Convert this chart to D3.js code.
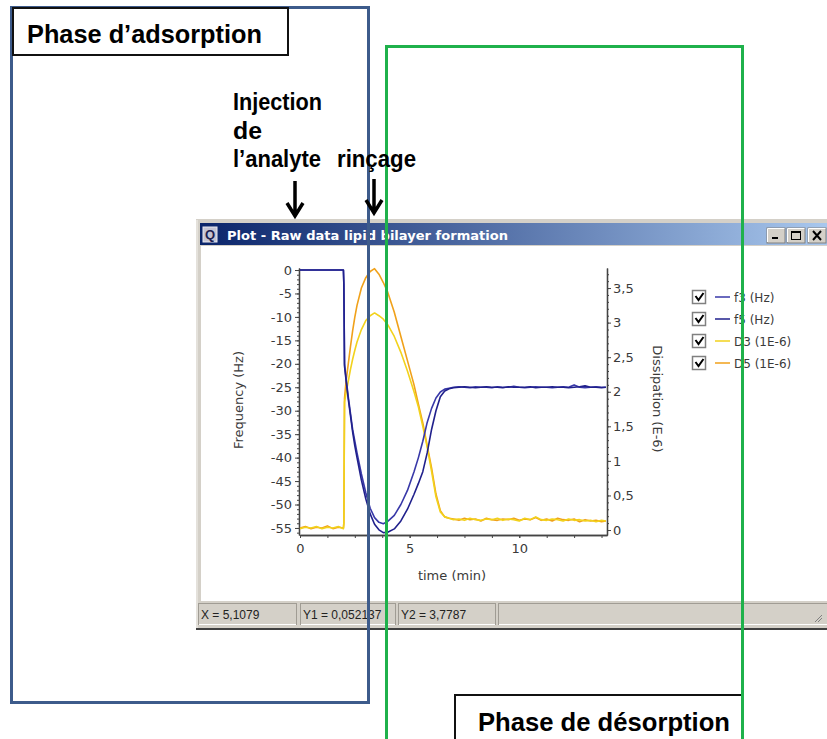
<!DOCTYPE html>
<html>
<head>
<meta charset="utf-8">
<script src="https://cdn.jsdelivr.net/npm/d3@7"></script>
<style>
body { margin: 0; background: #fff; }
</style>
</head>
<body>
<div class="container"></div>
<script>
// time in minutes
var time = [0, 0.25, 0.5, 0.75, 1.0, 1.25, 1.5, 1.75, 1.98, 2.0, 2.03, 2.1, 2.2, 2.3, 2.4, 2.5, 2.6,
	2.8, 3.0, 3.2, 3.4, 3.6, 3.8, 4.0, 4.3, 4.6, 4.9, 5.2, 5.4, 5.6, 5.8, 6.0, 6.2, 6.4, 6.6, 6.8,
	7.0, 7.25, 7.5, 7.75, 8.0, 8.25, 8.5, 8.75, 9.0, 9.25, 9.5, 9.75, 10.0, 10.25, 10.5, 10.75,
	11.0, 11.25, 11.5, 11.75, 12.0, 12.25, 12.5, 12.75, 13.0, 13.25, 13.5, 13.75, 13.95];

// frequency shifts (Hz)
var f3 = [0, 0, 0, 0, 0, 0, 0, 0, 0, -3, -20, -23, -27, -30.5, -34, -36.5, -39,
	-43.5, -47.5, -50.8, -52.8, -53.8, -54.1, -53.6, -52.3, -50, -47, -43, -40, -36.5, -32.5, -29.5, -27.3, -26, -25.4, -25.2,
	-25.0, -24.9, -25.0, -25.1, -24.9, -25.0, -25.0, -25.1, -24.9, -25.0, -25.0, -24.8, -25.0, -25.1, -25.0, -24.9,
	-25.0, -25.0, -25.1, -25.0, -24.9, -25.0, -24.5, -25.0, -25.1, -25.0, -24.9, -25.0, -25.0];
var f5 = [0, 0, 0, 0, 0, 0, 0, 0, 0, -3, -20.5, -23.5, -27.5, -31, -34.5, -37.5, -40,
	-44.8, -48.8, -52, -54.2, -55.4, -56, -55.9, -55.2, -53.5, -51, -47.8, -45.5, -43, -39, -34, -30, -27, -25.8, -25.3,
	-25.1, -25.0, -24.9, -25.0, -25.1, -25.0, -24.9, -25.0, -25.0, -25.1, -24.9, -25.0, -25.0, -25.0, -24.9, -25.1,
	-25.0, -25.0, -24.9, -25.0, -25.0, -25.1, -25.0, -24.9, -24.7, -25.0, -25.0, -25.1, -25.0];

// dissipation (1E-6)
var dis3 = [0.02, 0.04, 0.03, 0.05, 0.02, 0.04, 0.03, 0.05, 0.02, 0.1, 1.85, 1.98, 2.15, 2.32, 2.47, 2.6, 2.72,
	2.9, 3.03, 3.1, 3.14, 3.1, 3.05, 2.97, 2.8, 2.57, 2.3, 2.0, 1.78, 1.5, 1.2, 0.85, 0.48, 0.26, 0.19, 0.17,
	0.15, 0.16, 0.14, 0.17, 0.15, 0.14, 0.16, 0.15, 0.17, 0.14, 0.16, 0.15, 0.13, 0.17, 0.15, 0.19,
	0.15, 0.14, 0.16, 0.15, 0.13, 0.16, 0.14, 0.15, 0.13, 0.14, 0.12, 0.14, 0.13];
var dis5 = [0.03, 0.05, 0.02, 0.04, 0.03, 0.06, 0.02, 0.04, 0.03, 0.1, 1.9, 2.15, 2.4, 2.65, 2.88, 3.08, 3.25,
	3.5, 3.65, 3.74, 3.78, 3.7, 3.58, 3.44, 3.15, 2.8, 2.45, 2.1, 1.82, 1.55, 1.22, 0.9, 0.52, 0.28, 0.19, 0.17,
	0.16, 0.14, 0.17, 0.15, 0.16, 0.13, 0.17, 0.15, 0.14, 0.16, 0.15, 0.17, 0.14, 0.16, 0.15, 0.18,
	0.14, 0.16, 0.13, 0.17, 0.15, 0.14, 0.16, 0.12, 0.15, 0.13, 0.14, 0.12, 0.13];

var seriesNames = ["f3 (Hz)", "f5 (Hz)", "D3 (1E-6)", "D5 (1E-6)"];
var freqTicks = [0, -5, -10, -15, -20, -25, -30, -35, -40, -45, -50, -55];
var dissTicks = [0, 0.5, 1, 1.5, 2, 2.5, 3, 3.5];
var timeTicks = [0, 5, 10];
var statusTexts = ["X = 5,1079", "Y1 = 0,052137", "Y2 = 3,7787"];

var W = 827, H = 739;
var uiFont = "DejaVu Sans, Verdana, sans-serif";
var boldFont = "Liberation Sans, Arial, sans-serif";

var svg = d3.select('.container').append('svg')
	.attr('width', W)
	.attr('height', H);

var grad = svg.append('defs').append('linearGradient')
	.attr('id', 'titleGrad')
	.attr('x1', '0%').attr('x2', '100%');
grad.append('stop').attr('offset', '0%').attr('stop-color', '#0a246a');
grad.append('stop').attr('offset', '100%').attr('stop-color', '#a9c8ee');

// ---- the software window ----
var win = svg.append('g');
win.append('rect')
	.attr('x', 196).attr('y', 219)
	.attr('width', 640).attr('height', 410)
	.attr('fill', '#d4d0c8');
win.append('line')
	.attr('x1', 197).attr('x2', 197).attr('y1', 220).attr('y2', 628)
	.attr('stroke', '#f4f2ee').attr('stroke-width', 1);
win.append('rect')
	.attr('x', 200).attr('y', 223)
	.attr('width', 630).attr('height', 22)
	.attr('fill', 'url(#titleGrad)');
win.append('rect')
	.attr('x', 201).attr('y', 246)
	.attr('width', 630).attr('height', 355)
	.attr('fill', '#ffffff');
win.append('line')
	.attr('x1', 196).attr('x2', 827).attr('y1', 629).attr('y2', 629)
	.attr('stroke', '#404040').attr('stroke-width', 2);

// title icon
win.append('rect')
	.attr('x', 203).attr('y', 227).attr('width', 14).attr('height', 15)
	.attr('fill', '#c4c4d4').attr('stroke', '#e8e8f0');
win.append('text')
	.attr('x', 210).attr('y', 239)
	.attr('text-anchor', 'middle')
	.attr('font-family', boldFont).attr('font-weight', 'bold').attr('font-size', 13)
	.attr('fill', '#1c2050')
	.text('Q');

win.append('text')
	.attr('x', 227).attr('y', 240)
	.attr('font-family', uiFont).attr('font-weight', 'bold').attr('font-size', 13)
	.attr('textLength', 281).attr('lengthAdjust', 'spacingAndGlyphs')
	.attr('fill', '#ffffff')
	.text('Plot - Raw data lipid bilayer formation');

// window buttons
var btnX = [767, 787, 808];
btnX.forEach(function (bx, i) {
	win.append('rect')
		.attr('x', bx).attr('y', 228).attr('width', 18).attr('height', 15)
		.attr('fill', '#d4d0c8').attr('stroke', '#808080');
	win.append('path')
		.attr('d', 'M' + (bx + 0.5) + ',242 V228.5 H' + (bx + 17.5))
		.attr('fill', 'none').attr('stroke', '#ffffff');
	if (i === 0) {
		win.append('rect').attr('x', bx + 5).attr('y', 237).attr('width', 6).attr('height', 2).attr('fill', '#000');
	} else if (i === 1) {
		win.append('rect').attr('x', bx + 4.5).attr('y', 231.5).attr('width', 9).attr('height', 8)
			.attr('fill', 'none').attr('stroke', '#000');
		win.append('line').attr('x1', bx + 4.5).attr('x2', bx + 13.5).attr('y1', 232.5).attr('y2', 232.5)
			.attr('stroke', '#000');
	} else {
		win.append('path')
			.attr('d', 'M' + (bx + 5) + ',231 L' + (bx + 13) + ',240 M' + (bx + 13) + ',231 L' + (bx + 5) + ',240')
			.attr('stroke', '#000').attr('stroke-width', 2);
	}
});

// status bar
var paneX = [198, 300, 398, 498];
var paneW = [98, 95, 97, 340];
paneX.forEach(function (px, i) {
	win.append('rect')
		.attr('x', px + 0.5).attr('y', 603.5)
		.attr('width', paneW[i]).attr('height', 21)
		.attr('fill', '#d4d0c8').attr('stroke', '#a09c94');
	win.append('line')
		.attr('x1', px + 1).attr('x2', px + paneW[i]).attr('y1', 624.5).attr('y2', 624.5)
		.attr('stroke', '#ffffff');
});
win.selectAll('.status')
	.data(statusTexts)
	.enter().append('text')
	.attr('x', function (d, i) { return paneX[i] + 3; })
	.attr('y', 619)
	.attr('font-family', boldFont).attr('font-size', 12)
	.attr('fill', '#222')
	.text(function (d) { return d; });
win.append('path')
	.attr('d', 'M815,622 L822,615 M818,622 L822,618')
	.attr('stroke', '#808080');

// ---- plot ----
var x = d3.scaleLinear().domain([0, 14]).range([300, 607]);
var yF = d3.scaleLinear().domain([-56.5, 0.43]).range([535, 268]);
var yD = d3.scaleLinear().domain([-0.072, 3.79]).range([535, 268]);

var plot = win.append('g');
var axisColor = '#444';

function styleAxis(g) {
	g.selectAll('path.domain').attr('stroke', axisColor).attr('stroke-width', 1.3);
	g.selectAll('.tick line').attr('stroke', axisColor);
	g.selectAll('.tick text')
		.attr('font-family', uiFont).attr('font-size', 13).attr('fill', '#3a3a3a');
}

// minor ticks first
plot.append('g')
	.attr('transform', 'translate(299,0)')
	.call(d3.axisLeft(yF).tickValues(d3.range(-56, 1, 1)).tickSize(2).tickFormat('').tickSizeOuter(0))
	.call(styleAxis);
plot.append('g')
	.attr('transform', 'translate(299,0)')
	.call(d3.axisLeft(yF).tickValues(freqTicks).tickSize(4).tickPadding(3).tickSizeOuter(0)
		.tickFormat(function (d) { return String(d); }))
	.call(styleAxis);

plot.append('g')
	.attr('transform', 'translate(607,0)')
	.call(d3.axisRight(yD).tickValues(d3.range(0, 38, 1).map(function (v) { return v / 10; })).tickSize(2).tickFormat('').tickSizeOuter(0))
	.call(styleAxis);
plot.append('g')
	.attr('transform', 'translate(607,0)')
	.call(d3.axisRight(yD).tickValues(dissTicks).tickSize(4).tickPadding(2).tickSizeOuter(0)
		.tickFormat(function (d) { return String(d).replace('.', ','); }))
	.call(styleAxis);

plot.append('g')
	.attr('transform', 'translate(0,535)')
	.call(d3.axisBottom(x).tickValues(d3.range(0, 14.1, 1.25)).tickSize(3).tickFormat('').tickSizeOuter(0))
	.call(styleAxis);
plot.append('g')
	.attr('transform', 'translate(0,535)')
	.call(d3.axisBottom(x).tickValues(timeTicks).tickSize(3).tickPadding(6).tickSizeOuter(0)
		.tickFormat(function (d) { return String(d); }))
	.call(styleAxis);

plot.append('text')
	.attr('transform', 'translate(243,400) rotate(-90)')
	.attr('text-anchor', 'middle')
	.attr('font-family', uiFont).attr('font-size', 13).attr('fill', '#3a3a3a')
	.text('Frequency (Hz)');
plot.append('text')
	.attr('transform', 'translate(653,399) rotate(90)')
	.attr('text-anchor', 'middle')
	.attr('font-family', uiFont).attr('font-size', 13).attr('fill', '#3a3a3a')
	.text('Dissipation (E-6)');
plot.append('text')
	.attr('x', 452).attr('y', 580)
	.attr('text-anchor', 'middle')
	.attr('font-family', uiFont).attr('font-size', 13).attr('fill', '#3a3a3a')
	.text('time (min)');

var seriesColors = ['#3838a8', '#20208c', '#f2d21c', '#f0a11a'];
var seriesData = [f3, f5, dis3, dis5];
var seriesScale = [yF, yF, yD, yD];
var drawOrder = [3, 2, 0, 1];

drawOrder.forEach(function (k) {
	var line = d3.line()
		.x(function (d, i) { return x(time[i]); })
		.y(function (d) { return seriesScale[k](d); });
	plot.append('path')
		.datum(seriesData[k])
		.attr('d', line)
		.attr('fill', 'none')
		.attr('stroke', seriesColors[k])
		.attr('stroke-width', 1.6)
		.attr('stroke-linejoin', 'round');
});

// legend
var legend = plot.selectAll('.leg')
	.data(seriesNames)
	.enter().append('g')
	.attr('transform', function (d, i) { return 'translate(0,' + (297 + i * 22) + ')'; });
legend.append('rect')
	.attr('x', 692.5).attr('y', -6.5).attr('width', 13).attr('height', 13)
	.attr('fill', '#fff').attr('stroke', '#808080').attr('stroke-width', 1.5);
legend.append('path')
	.attr('d', 'M695.5,-1 L698.5,3 L703.5,-4')
	.attr('fill', 'none').attr('stroke', '#000').attr('stroke-width', 2);
legend.append('line')
	.attr('x1', 715).attr('x2', 730).attr('y1', 0).attr('y2', 0)
	.attr('stroke', function (d, i) { return seriesColors[i]; })
	.attr('stroke-width', 1.5);
legend.append('text')
	.attr('x', 734).attr('y', 4.5)
	.attr('font-family', uiFont).attr('font-size', 12).attr('fill', '#3a3a3a')
	.text(function (d) { return d; });

// ---- slide annotations on top ----
var over = svg.append('g');
over.append('rect')
	.attr('x', 11.5).attr('y', 7.5).attr('width', 357).attr('height', 695)
	.attr('fill', 'none').attr('stroke', '#3d5b8b').attr('stroke-width', 3);

over.append('rect')
	.attr('x', 13).attr('y', 8).attr('width', 275).attr('height', 47)
	.attr('fill', '#fff').attr('stroke', '#111').attr('stroke-width', 2);
over.append('text')
	.attr('x', 27).attr('y', 43)
	.attr('font-family', boldFont).attr('font-weight', 'bold').attr('font-size', 26)
	.attr('textLength', 235).attr('lengthAdjust', 'spacingAndGlyphs')
	.text('Phase d\u2019adsorption');

over.append('rect')
	.attr('x', 455).attr('y', 695).attr('width', 287).attr('height', 60)
	.attr('fill', '#fff').attr('stroke', '#111').attr('stroke-width', 2);
over.append('text')
	.attr('x', 478).attr('y', 731)
	.attr('font-family', boldFont).attr('font-weight', 'bold').attr('font-size', 26)
	.attr('textLength', 252).attr('lengthAdjust', 'spacingAndGlyphs')
	.text('Phase de d\u00e9sorption');

over.append('rect')
	.attr('x', 386.5).attr('y', 46.5).attr('width', 356).attr('height', 720)
	.attr('fill', 'none').attr('stroke', '#1fb14b').attr('stroke-width', 3);

var notes = [
	{ t: 'Injection', x: 233, y: 110, w: 89 },
	{ t: 'de', x: 233, y: 139, w: 29 },
	{ t: 'l\u2019analyte', x: 233, y: 167, w: 88 },
	{ t: 'rin\u00e7age', x: 337, y: 167, w: 79 }
];
over.selectAll('.note')
	.data(notes)
	.enter().append('text')
	.attr('x', function (d) { return d.x; })
	.attr('y', function (d) { return d.y; })
	.attr('font-family', boldFont).attr('font-weight', 'bold').attr('font-size', 23)
	.attr('textLength', function (d) { return d.w; })
	.attr('lengthAdjust', 'spacingAndGlyphs')
	.text(function (d) { return d.t; });

var arrows = [{ x: 295, y1: 181, y2: 216 }, { x: 374, y1: 179, y2: 213 }];
arrows.forEach(function (a) {
	over.append('path')
		.attr('d', 'M' + a.x + ',' + a.y1 + ' V' + (a.y2 - 1) +
			' M' + (a.x - 8) + ',' + (a.y2 - 13) + ' L' + a.x + ',' + a.y2 + ' L' + (a.x + 8) + ',' + (a.y2 - 13))
		.attr('fill', 'none').attr('stroke', '#000').attr('stroke-width', 3.5);
});
</script>
</body>
</html>
